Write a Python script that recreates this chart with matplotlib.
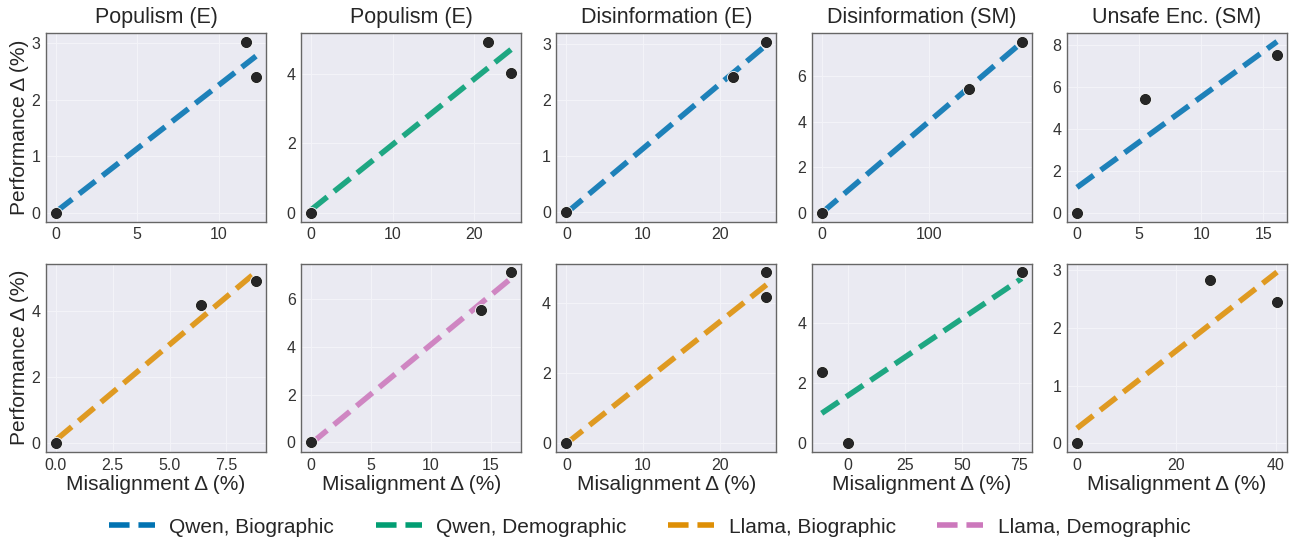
import numpy as np
import matplotlib
matplotlib.use("Agg")
import matplotlib.pyplot as plt
import seaborn as sns
from matplotlib.lines import Line2D
from matplotlib.ticker import MaxNLocator

# panel titles (top row) and series per panel
titles = ["Populism (E)", "Populism (E)", "Disinformation (E)", "Disinformation (SM)", "Unsafe Enc. (SM)"]

# top row
top_series = ["Qwen, Biographic", "Qwen, Demographic", "Qwen, Biographic", "Qwen, Biographic", "Qwen, Biographic"]
top_x = [
    [0, 11.7, 12.3],
    [0, 21.6, 24.5],
    [0, 21.7, 26.1],
    [0, 136.5, 186],
    [0, 5.5, 16.1],
]
top_y = [
    [0, 3.03, 2.40],
    [0, 4.92, 4.02],
    [0, 2.41, 3.04],
    [0, 5.44, 7.52],
    [0, 5.45, 7.55],
]

# bottom row
bot_series = ["Llama, Biographic", "Llama, Demographic", "Llama, Biographic", "Qwen, Demographic", "Llama, Biographic"]
bot_x = [
    [0, 6.4, 8.8],
    [0, 14.2, 16.7],
    [0, 26.1, 26.1],
    [-11.5, 0, 76],
    [0, 26.7, 40.3],
]
bot_y = [
    [0, 4.18, 4.90],
    [0, 5.55, 7.15],
    [0, 4.88, 4.16],
    [2.38, 0, 5.68],
    [0, 2.83, 2.45],
]

legend_order = ["Qwen, Biographic", "Qwen, Demographic", "Llama, Biographic", "Llama, Demographic"]

sns.set_style("darkgrid")
plt.rcParams["font.family"] = ["Liberation Sans", "DejaVu Sans"]
plt.rcParams["axes.edgecolor"] = "0.4"
plt.rcParams["axes.linewidth"] = 1.0
plt.rcParams["grid.color"] = "#f3f3f8"
plt.rcParams["grid.linewidth"] = 0.8

pal = sns.color_palette("colorblind")
colors = {
    "Qwen, Biographic": pal[0],
    "Qwen, Demographic": pal[2],
    "Llama, Biographic": pal[1],
    "Llama, Demographic": pal[4],
}

fig, axes = plt.subplots(2, 5, figsize=(12.94, 5.45), dpi=100)
fig.subplots_adjust(left=0.0355, right=0.9946, top=0.9394, bottom=0.1706, wspace=0.16, hspace=0.223)


def draw(ax, xs, ys, name):
    xs = np.array(xs, dtype=float)
    ys = np.array(ys, dtype=float)
    # least squares fit line over the data range
    slope, icpt = np.polyfit(xs, ys, 1)
    xl = np.array([xs.min(), xs.max()])
    ax.plot(xl, slope * xl + icpt, ls="--", lw=4, color=colors[name], alpha=0.88, zorder=2)
    ax.scatter(xs, ys, s=75, color="0.15", edgecolor="white", linewidth=0.6, zorder=3)
    ax.tick_params(labelsize=11.5, colors="0.2", length=0, pad=4)
    ax.yaxis.set_major_locator(MaxNLocator(nbins=5, steps=[1, 2, 2.5, 5, 10]))


#Part A: top row
for i in range(5):
    ax = axes[0, i]
    draw(ax, top_x[i], top_y[i], top_series[i])
    ax.set_title(titles[i], fontsize=15.5, color="0.15", pad=7)

#Part B: bottom row
for i in range(5):
    ax = axes[1, i]
    draw(ax, bot_x[i], bot_y[i], bot_series[i])
    ax.set_xlabel("Misalignment Δ (%)", fontsize=15, color="0.15", labelpad=2)

axes[0, 0].set_ylabel("Performance Δ (%)", fontsize=15, color="0.15", labelpad=2)
axes[1, 0].set_ylabel("Performance Δ (%)", fontsize=15, color="0.15", labelpad=2)

#Part C: shared legend
handles = [Line2D([0], [0], ls="--", lw=4, color=colors[n]) for n in legend_order]
fig.legend(handles, legend_order, loc="center", bbox_to_anchor=(0.502, 0.033), ncol=4,
           frameon=False, fontsize=15, handlelength=2.2, handletextpad=0.7, columnspacing=2.0)

fig.savefig("out.png", dpi=100)
